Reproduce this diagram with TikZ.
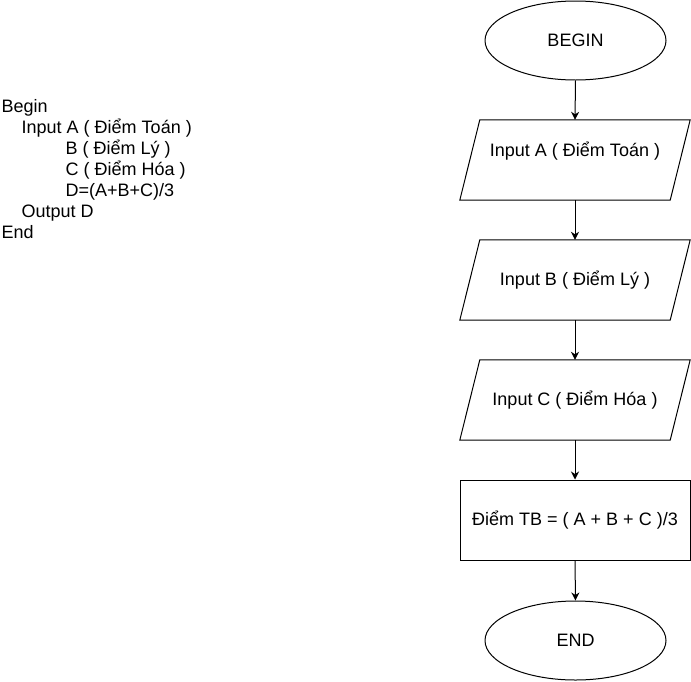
\documentclass[tikz,border=0pt]{standalone}
\usepackage{fontspec}
\setmainfont{Liberation Sans}
\usetikzlibrary{shapes.geometric,arrows.meta}
\begin{document}
\begin{tikzpicture}[x=1pt,y=1pt,
  font=\fontsize{18pt}{21.2pt}\selectfont,
  every node/.style={inner sep=0pt},
  term/.style={ellipse,draw,line width=1pt,minimum width=181pt,minimum height=79pt},
  parabox/.style={minimum width=230pt,minimum height=80pt},
  procbox/.style={rectangle,draw,line width=1pt,minimum width=230pt,minimum height=80pt},
  txt/.style={anchor=base west},
  flow/.style={line width=1pt,-{Stealth[length=8pt,width=8pt,inset=2.5pt]}}]
\useasboundingbox (0,0) rectangle (691,-681);
% left pseudo-code
\node[txt] (l1) at (1.5,-112) {Begin};
\node[txt] (l2) at (21.5,-133.2) {Input A ( Điểm Toán )};
\node[txt] (l3) at (65.5,-154.4) {B ( Điểm Lý )};
\node[txt] (l4) at (65.5,-175.4) {C ( Điểm Hóa )};
\node[txt] (l5) at (65.5,-196.4) {D=(A+B+C)/3};
\node[txt] (l6) at (21.5,-217.4) {Output D};
\node[txt] (l7) at (1.5,-238.4) {End};
% flowchart
\node[term] (begin) at (575.5,-40.5) {BEGIN};
\node[parabox] (pa) at (575,-160) {};
\node (pat) at (575,-151) {Input A ( Điểm Toán )};
\node[parabox] (pb) at (575,-280) {Input B ( Điểm Lý )};
\node[parabox] (pc) at (575,-400) {Input C ( Điểm Hóa )};
\node[procbox] (tb) at (575,-520) {Điểm TB = ( A + B + C )/3};
\node[term] (end) at (575.5,-640.5) {END};
\foreach \n in {pa,pb,pc}{
  \draw[line width=1pt,line join=miter] ([xshift=20pt]\n.north west) -- (\n.north east)
    -- ([xshift=-20pt]\n.south east) -- (\n.south west) -- cycle;
}
\draw[flow] (begin.south) -- (pa.north);
\draw[flow] (pa.south) -- (pb.north);
\draw[flow] (pb.south) -- (pc.north);
\draw[flow] (pc.south) -- (tb.north);
\draw[flow] (tb.south) -- (end.north);
\end{tikzpicture}
\end{document}
